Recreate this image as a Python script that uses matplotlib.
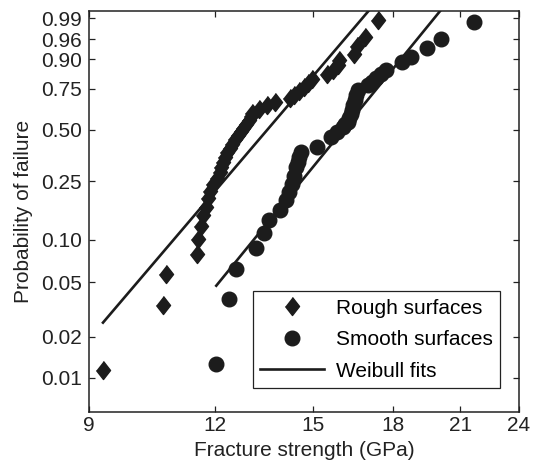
import numpy as np
import matplotlib
matplotlib.use("Agg")
import matplotlib.pyplot as plt
from matplotlib.ticker import FixedLocator, FixedFormatter, NullLocator

plt.rcParams['font.family'] = ['Liberation Sans', 'DejaVu Sans']

# rough surfaces: strength (GPa) and probability of failure
rough_x = [9.29, 10.66, 10.72, 11.52, 11.55, 11.62, 11.68, 11.75, 11.80, 11.86,
           11.95, 12.04, 12.12, 12.17, 12.22, 12.28, 12.33, 12.40, 12.48, 12.55,
           12.63, 12.72, 12.80, 12.87, 12.95, 13.01, 13.05, 13.26, 13.51, 13.77,
           14.23, 14.38, 14.52, 14.68, 14.82, 14.95, 15.50, 15.69, 15.87, 15.93,
           16.48, 16.60, 16.90, 17.41]
rough_p = [0.0114, 0.034, 0.057, 0.080, 0.102, 0.125, 0.148, 0.170, 0.193, 0.216,
           0.239, 0.261, 0.284, 0.307, 0.330, 0.352, 0.375, 0.398, 0.420, 0.443,
           0.466, 0.489, 0.511, 0.534, 0.557, 0.580, 0.602, 0.625, 0.648, 0.670,
           0.693, 0.716, 0.739, 0.761, 0.784, 0.807, 0.830, 0.852, 0.875, 0.898,
           0.920, 0.943, 0.966, 0.989]

# smooth surfaces
smooth_x = [12.03, 12.38, 12.58, 13.18, 13.41, 13.56, 13.92, 14.10, 14.21, 14.31,
            14.37, 14.42, 14.48, 14.53, 14.58, 15.15, 15.62, 15.86, 16.05, 16.15,
            16.23, 16.30, 16.36, 16.40, 16.45, 16.50, 16.55, 16.61, 16.99, 17.15,
            17.32, 17.50, 17.71, 18.40, 18.75, 19.48, 20.08, 21.64]
smooth_p = [0.0126, 0.038, 0.062, 0.088, 0.112, 0.137, 0.161, 0.188, 0.213, 0.240,
            0.270, 0.307, 0.330, 0.353, 0.375, 0.403, 0.457, 0.486, 0.517, 0.532,
            0.547, 0.570, 0.596, 0.620, 0.649, 0.680, 0.712, 0.743, 0.773, 0.790,
            0.809, 0.830, 0.852, 0.889, 0.909, 0.937, 0.962, 0.987]

# weibull fits: modulus, scale (GPa), x range of the drawn line
rough_fit = (8.77, 14.10, 9.29, 17.3)
smooth_fit = (9.17, 16.74, 12.03, 20.3)

yticks = [0.01, 0.02, 0.05, 0.10, 0.25, 0.50, 0.75, 0.90, 0.96, 0.99]
ytick_labels = ['0.01', '0.02', '0.05', '0.10', '0.25', '0.50', '0.75', '0.90', '0.96', '0.99']
xticks = [9, 12, 15, 18, 21, 24]


def fwd(p):
    p = np.clip(p, 1e-9, 1 - 1e-9)
    return np.log(-np.log(1 - p))


def inv(y):
    return 1 - np.exp(-np.exp(y))


def weibull_line(m, s0, xa, xb):
    xs = np.array([xa, xb])
    return xs, 1 - np.exp(-(xs / s0) ** m)


fig = plt.figure(figsize=(5.4, 4.66), dpi=100)
ax = fig.add_axes([0.165, 0.116, 0.796, 0.860])

diamond = [(0, 1), (0.78, 0), (0, -1), (-0.78, 0)]
ink = '#1c1c1c'
fs = 15

ax.plot(rough_x, rough_p, linestyle='none', marker=diamond, markersize=13,
        color=ink, label='Rough surfaces')
ax.plot(smooth_x, smooth_p, linestyle='none', marker='o', markersize=10.5,
        color=ink, label='Smooth surfaces')
xs, ps = weibull_line(*rough_fit)
ax.plot(xs, ps, color=ink, lw=1.9, label='Weibull fits')
xs, ps = weibull_line(*smooth_fit)
ax.plot(xs, ps, color=ink, lw=1.9)

ax.set_xscale('log')
ax.set_yscale('function', functions=(fwd, inv))
ax.set_xlim(9, 24)
ax.set_ylim(0.0056, 0.99455)

ax.xaxis.set_major_locator(FixedLocator(xticks))
ax.xaxis.set_major_formatter(FixedFormatter([str(v) for v in xticks]))
ax.xaxis.set_minor_locator(NullLocator())
ax.yaxis.set_major_locator(FixedLocator(yticks))
ax.yaxis.set_major_formatter(FixedFormatter(ytick_labels))
ax.yaxis.set_minor_locator(NullLocator())

ax.tick_params(direction='in', length=4.5, width=0.9, top=True, right=True,
               labelsize=fs, colors='#222222')
ax.tick_params(axis='y', pad=5)
ax.tick_params(axis='x', pad=3)
for sp in ax.spines.values():
    sp.set_linewidth(1.1)
    sp.set_color('#222222')

ax.set_xlabel('Fracture strength (GPa)', fontsize=fs, color='#222222', labelpad=4)
ax.set_ylabel('Probability of failure', fontsize=fs, color='#222222', labelpad=6)

leg = ax.legend(loc='lower right', bbox_to_anchor=(0.956, 0.06), fontsize=fs,
                frameon=True, fancybox=False, framealpha=1, handlelength=3.1,
                borderpad=0.35, labelspacing=0.6, handletextpad=0.55,
                borderaxespad=0)
leg.get_frame().set_edgecolor('#222222')
leg.get_frame().set_linewidth(0.9)

fig.savefig('out.png', dpi=100)
